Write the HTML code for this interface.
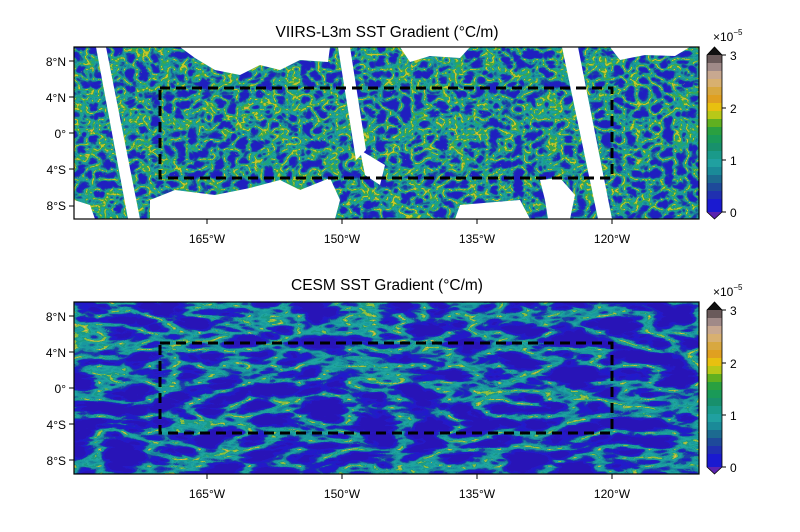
<!DOCTYPE html>
<html><head><meta charset="utf-8"><style>
html,body{margin:0;padding:0;background:#fff;}
svg{display:block;font-family:"Liberation Sans",Arial,sans-serif;}
</style></head><body>
<svg width="800" height="532" viewBox="0 0 800 532" xmlns="http://www.w3.org/2000/svg">
<defs>
<filter id="ftop" filterUnits="userSpaceOnUse" x="74" y="47" width="625" height="172" color-interpolation-filters="sRGB">
<feTurbulence type="turbulence" baseFrequency="0.08 0.1" numOctaves="2" seed="4"/>
<feColorMatrix type="matrix" values="-1.5 0 0 0 0.76  -1.5 0 0 0 0.76  -1.5 0 0 0 0.76  0 0 0 0 1"/>
<feComponentTransfer>
<feFuncR type="discrete" tableValues="0.125 0.13 0.10 0.11 0.10 0.125 0.10 0.25 0.78 0.88 0.82 0"/>
<feFuncG type="discrete" tableValues="0.125 0.13 0.23 0.35 0.54 0.63 0.63 0.66 0.78 0.69 0.69 0"/>
<feFuncB type="discrete" tableValues="0.75 0.78 0.66 0.60 0.60 0.63 0.53 0.28 0.16 0.25 0.50 0"/>
<feFuncA type="discrete" tableValues="1"/>
</feComponentTransfer>
</filter>
<filter id="fbot" filterUnits="userSpaceOnUse" x="74" y="302" width="625" height="172" color-interpolation-filters="sRGB">
<feTurbulence type="turbulence" baseFrequency="0.02 0.06" numOctaves="3" seed="9"/>
<feColorMatrix type="matrix" values="-2.0 0 0 0 0.9  -2.0 0 0 0 0.9  -2.0 0 0 0 0.9  0 0 0 0 1"/>
<feComponentTransfer>
<feFuncR type="discrete" tableValues="0.16 0.15 0.13 0.12 0.11 0.10 0.10 0.125 0.10 0.55 0.88 0.1"/>
<feFuncG type="discrete" tableValues="0.08 0.10 0.10 0.13 0.25 0.50 0.60 0.65 0.60 0.75 0.72 0.1"/>
<feFuncB type="discrete" tableValues="0.72 0.78 0.80 0.75 0.66 0.60 0.62 0.63 0.53 0.25 0.30 0.1"/>
<feFuncA type="discrete" tableValues="1"/>
</feComponentTransfer>
</filter>
<clipPath id="ct"><rect x="74" y="47" width="625" height="172"/></clipPath>
</defs>

<text x="387" y="37" font-size="15.5" text-anchor="middle">VIIRS-L3m SST Gradient (°C/m)</text>
<text x="387" y="290" font-size="15.5" text-anchor="middle">CESM SST Gradient (°C/m)</text>

<rect x="74" y="47" width="625" height="172" fill="#2020c0" filter="url(#ftop)"/>
<g clip-path="url(#ct)" fill="#fff">
<polygon points="96,47 106,47 140,219 128,219"/>
<polygon points="338,47 350,47 366,150 356,160"/>
<polygon points="562,47 578,47 612,219 598,219"/>
<path d="M180,47 L330,47 L328,62 L300,60 L280,70 L260,65 L240,75 L215,70 L195,58 Z"/>
<path d="M400,47 L470,47 L460,58 L430,56 L410,62 Z"/>
<path d="M610,47 L690,47 L675,56 L645,55 L620,60 Z"/>
<path d="M150,219 L150,200 L175,190 L215,195 L250,188 L280,180 L300,190 L330,178 L340,200 L335,219 Z"/>
<path d="M74,200 L90,205 L95,219 L74,219 Z"/>
<path d="M360,150 L385,165 L380,185 L365,175 Z"/>
<path d="M540,180 L560,178 L575,195 L570,219 L548,219 L545,200 Z"/>
<path d="M460,205 L520,200 L530,219 L455,219 Z"/>
</g>
<rect x="74" y="47" width="625" height="172" fill="none" stroke="#000" stroke-width="1.2"/>
<rect x="160" y="88" width="452" height="90" fill="none" stroke="#000" stroke-width="3" stroke-dasharray="10,6"/>

<rect x="74" y="302" width="625" height="172" fill="#2020c0" filter="url(#fbot)"/>
<rect x="74" y="302" width="625" height="172" fill="none" stroke="#000" stroke-width="1.2"/>
<rect x="160" y="343" width="452" height="90" fill="none" stroke="#000" stroke-width="3" stroke-dasharray="10,6"/>

<g font-size="12" fill="#000" stroke="none">
<g text-anchor="end">
<text x="66" y="66">8°N</text><text x="66" y="102">4°N</text><text x="66" y="138">0°</text><text x="66" y="174">4°S</text><text x="66" y="210">8°S</text>
<text x="66" y="321">8°N</text><text x="66" y="357">4°N</text><text x="66" y="393">0°</text><text x="66" y="429">4°S</text><text x="66" y="465">8°S</text>
</g>
<g text-anchor="middle">
<text x="207" y="243">165°W</text><text x="342" y="243">150°W</text><text x="477" y="243">135°W</text><text x="612" y="243">120°W</text>
<text x="207" y="498">165°W</text><text x="342" y="498">150°W</text><text x="477" y="498">135°W</text><text x="612" y="498">120°W</text>
</g>
</g>
<g stroke="#000" stroke-width="1">
<path d="M69,61h5M69,97h5M69,133h5M69,169h5M69,206h5M69,316h5M69,352h5M69,388h5M69,424h5M69,460h5"/>
<path d="M207,219v5M342,219v5M477,219v5M612,219v5M207,474v5M342,474v5M477,474v5M612,474v5"/>
</g>

<g id="cb">
<polygon points="707,55 722,55 714.5,47" fill="#111"/>
<polygon points="707,212 722,212 714.5,219" fill="#5a22b0"/>
<rect x="707" y="55" width="15" height="9" fill="#6a5a5a"/>
<rect x="707" y="63" width="15" height="9" fill="#a08a88"/>
<rect x="707" y="71" width="15" height="9" fill="#c8a890"/>
<rect x="707" y="79" width="15" height="9" fill="#d8b070"/>
<rect x="707" y="87" width="15" height="9" fill="#d8a840"/>
<rect x="707" y="95" width="15" height="9" fill="#e0a020"/>
<rect x="707" y="103" width="15" height="9" fill="#e8c010"/>
<rect x="707" y="111" width="15" height="9" fill="#b8c818"/>
<rect x="707" y="119" width="15" height="9" fill="#60b020"/>
<rect x="707" y="127" width="15" height="9" fill="#2aa040"/>
<rect x="707" y="135" width="15" height="9" fill="#1a9a58"/>
<rect x="707" y="143" width="15" height="9" fill="#18906c"/>
<rect x="707" y="151" width="15" height="9" fill="#1a9a8a"/>
<rect x="707" y="159" width="15" height="9" fill="#20a0a0"/>
<rect x="707" y="167" width="15" height="9" fill="#1a8a98"/>
<rect x="707" y="175" width="15" height="9" fill="#1c6a90"/>
<rect x="707" y="183" width="15" height="9" fill="#1e4a9a"/>
<rect x="707" y="191" width="15" height="9" fill="#2030b0"/>
<rect x="707" y="199" width="15" height="13" fill="#1a1ad0"/>
<polygon points="707,55 714.5,47 722,55 722,212 714.5,219 707,212" fill="none" stroke="#000" stroke-width="0.8"/>
<path d="M722,55h4M722,108h4M722,160h4M722,212h4" stroke="#000"/>
<g font-size="12"><text x="730" y="60">3</text><text x="730" y="113">2</text><text x="730" y="165">1</text><text x="730" y="217">0</text>
<text x="713" y="41">×10<tspan font-size="8" dy="-6">−5</tspan></text></g>
</g>
<use href="#cb" transform="translate(0,255)"/>
</svg>
</body></html>
